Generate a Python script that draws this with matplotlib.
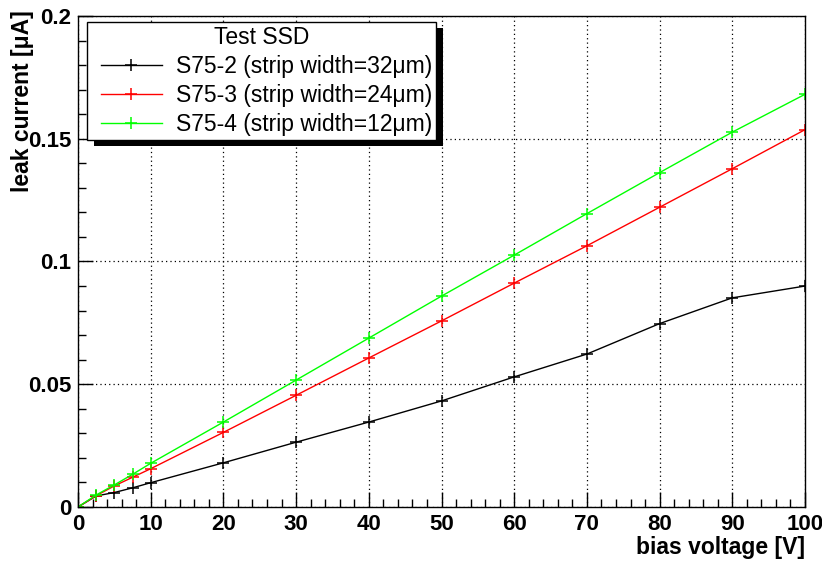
import matplotlib
matplotlib.use('Agg')
import matplotlib.pyplot as plt
from matplotlib.patches import Rectangle
from matplotlib.legend_handler import HandlerLine2D
from matplotlib.ticker import MultipleLocator, FormatStrFormatter

plt.rcParams['font.family'] = ['Liberation Sans', 'DejaVu Sans']

# bias voltage [V]
voltage = [0, 2.5, 5, 7.5, 10, 20, 30, 40, 50, 60, 70, 80, 90, 100]
# leak current [uA]
s75_2 = [0, 0.0045, 0.0059, 0.0078, 0.0099, 0.0180, 0.0264, 0.0346, 0.0432,
         0.0530, 0.0623, 0.0747, 0.0852, 0.0900]
s75_3 = [0, 0.0046, 0.0086, 0.0121, 0.0156, 0.0304, 0.0455, 0.0607, 0.0758,
         0.0912, 0.1064, 0.1221, 0.1378, 0.1537]
s75_4 = [0, 0.0049, 0.0090, 0.0133, 0.0178, 0.0346, 0.0517, 0.0688, 0.0859,
         0.1026, 0.1195, 0.1362, 0.1527, 0.1681]
labels = ['S75-2 (strip width=32\u03bcm)',
          'S75-3 (strip width=24\u03bcm)',
          'S75-4 (strip width=12\u03bcm)']
colors = ['black', 'red', '#00ff00']

fig = plt.figure(figsize=(8.22, 5.62), dpi=100)
ax = fig.add_axes([78/822, 55/562, 727/822, 491/562])

lines = []
for y, lab, c in zip([s75_2, s75_3, s75_4], labels, colors):
    ln, = ax.plot(voltage, y, color=c, lw=1, marker='+', ms=9, mew=1.1, label=lab)
    lines.append(ln)

ax.set_xlim(0, 100)
ax.set_ylim(0, 0.2)
ax.xaxis.set_major_locator(MultipleLocator(10))
ax.xaxis.set_minor_locator(MultipleLocator(2))
ax.yaxis.set_major_locator(MultipleLocator(0.05))
ax.yaxis.set_minor_locator(MultipleLocator(0.01))
ax.yaxis.set_major_formatter(FormatStrFormatter('%g'))
ax.tick_params(which='both', direction='in', top=False, right=False)
ax.tick_params(which='major', length=11, width=1, labelsize=16, pad=5)
ax.tick_params(which='minor', length=6, width=1)
for lbl in ax.get_xticklabels() + ax.get_yticklabels():
    lbl.set_fontweight('bold')
for s in ax.spines.values():
    s.set_linewidth(1)
ax.grid(True, which='major', color='black', ls=(0, (1, 2.5)), lw=0.9)

ax.set_xlabel('bias voltage [V]', loc='right', fontsize=16.5, fontweight='bold', labelpad=1)
ax.set_ylabel('leak current [\u03bcA]', loc='top', fontsize=16.5, fontweight='bold')
ax.yaxis.set_label_coords(-0.0605, 1.012)

# legend in ROOT style: square box with a solid black drop shadow
fs = 16.5
leg = ax.legend(handles=lines, loc='upper left', bbox_to_anchor=(0.0125, 0.988),
                title='Test SSD', fontsize=fs, title_fontsize=fs, frameon=True,
                fancybox=False, edgecolor='black', framealpha=1,
                handlelength=3.09, labelspacing=0.27, borderpad=0.17,
                handletextpad=0.61, borderaxespad=0,
                handler_map={ln: HandlerLine2D(xpad=0.42) for ln in lines})
leg.get_frame().set_linewidth(1)
leg.set_zorder(6)

fig.canvas.draw()
bb = leg.get_window_extent().transformed(ax.transAxes.inverted())
dx = 7 / 727
dy = 6 / 491
ax.add_patch(Rectangle((bb.x0 + dx, bb.y0 - dy), bb.width, bb.height,
                       transform=ax.transAxes, facecolor='black',
                       edgecolor='none', zorder=5.5, clip_on=False))

fig.savefig('out.png', dpi=100)
